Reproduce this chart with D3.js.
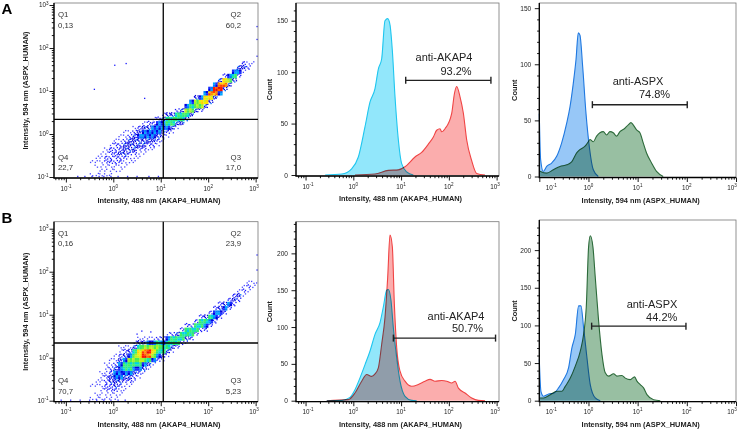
<!DOCTYPE html>
<html>
<head>
<meta charset="utf-8">
<script src="https://cdn.jsdelivr.net/npm/d3@7"></script>
<style>
body { margin: 0; background: #fff; }
svg { font-family: "Liberation Sans", Arial, sans-serif; }
</style>
</head>
<body>
<svg id="chart" width="738" height="433"></svg>
<script>
// ---------------- data ----------------
// quadrant gate (intensity units) and quadrant percentages (Q1,Q2,Q3,Q4)
const quadNames = ["Q1", "Q2", "Q3", "Q4"];
const quadValsA = ["0,13", "60,2", "17,0", "22,7"];
const quadValsB = ["0,16", "23,9", "5,23", "70,7"];
const gateX = 11.3, gateY = 2.2;

// dot plot density: [log10 x of column, log10 y of first cell, density digit per 0.1 decade going up]
const scatA = [
  [-0.5,-1.0,"1001"], [-0.4,-1.0,"10111"], [-0.3,-1.0,"111111"], [-0.2,-1.0,"1112211"],
  [-0.1,-1.0,"11122221"], [0.0,-0.9,"11222221"], [0.1,-0.9,"112232211"], [0.2,-0.8,"112333211"],
  [0.3,-0.7,"11233321"], [0.4,-0.7,"112333321"], [0.5,-0.6,"11233432"], [0.6,-0.5,"12334431"],
  [0.7,-0.4,"1234432"], [0.8,-0.4,"12344421"], [0.9,-0.3,"1234442"], [1.0,-0.2,"1234431"],
  [1.1,-0.1,"124553"], [1.2,0.0,"13553"], [1.3,0.1,"13552"], [1.4,0.2,"3553"],
  [1.5,0.3,"3564"], [1.6,0.4,"3654"], [1.7,0.5,"3663"], [1.8,0.5,"2674"],
  [1.9,0.6,"3774"], [2.0,0.7,"3784"], [2.1,0.8,"3894"], [2.2,0.9,"4983"],
  [2.3,1.0,"3872"], [2.4,1.1,"364"], [2.5,1.2,"354"], [2.6,1.3,"243"],
  [2.7,1.4,"132"], [2.8,1.5,"21"], [2.9,1.6,"1"]
];
const outliersA = [[0.03,1.6],[0.27,1.64],[-0.4,1.04],[0.66,0.83],[3.03,1.81],[3.03,2.5],[3.03,2.2]];
const floorA = [-0.75,-0.6,-0.45,-0.3,-0.2,-0.05,0.1,0.3,0.5,0.75,0.95];

const scatB = [
  [-0.5,-1.0,"1001"], [-0.4,-1.0,"11011"], [-0.3,-1.0,"1111111"], [-0.2,-1.0,"112222111"],
  [-0.1,-1.0,"1122332211"], [0.0,-1.0,"11233443211"], [0.1,-0.9,"112344443211"], [0.2,-0.8,"11234554321"],
  [0.3,-0.7,"1234556431"], [0.4,-0.6,"1234566531"], [0.5,-0.5,"1245677531"], [0.6,-0.4,"134698631"],
  [0.7,-0.3,"13589641"], [0.8,-0.2,"1467641"], [0.9,-0.1,"245652"], [1.0,-0.1,"135542"],
  [1.1,0.0,"135541"], [1.2,0.1,"13552"], [1.3,0.2,"2553"], [1.4,0.3,"2552"],
  [1.5,0.3,"13552"], [1.6,0.4,"2552"], [1.7,0.5,"2552"], [1.8,0.6,"2552"],
  [1.9,0.6,"2453"], [2.0,0.7,"2452"], [2.1,0.8,"2442"], [2.2,0.9,"2432"],
  [2.3,1.0,"243"], [2.4,1.1,"242"], [2.5,1.2,"232"], [2.6,1.3,"231"],
  [2.7,1.4,"121"], [2.8,1.5,"121"], [2.9,1.6,"11"], [3.0,1.7,"1"]
];
const outliersB = [[0.6,0.62],[0.79,0.6],[0.5,0.55],[3.03,2.39],[3.03,2.04]];
const floorB = [-1.1,-0.9,-0.7,-0.5,-0.35,-0.2,-0.05,0.1,0.25];

// histograms: [log10 intensity, count]
const akapCtrlA = [[-0.59,0],[-0.24,1],[-0.035,6],[0.105,17.5],[0.245,47],[0.35,71],[0.454,84],[0.524,103],
  [0.594,113],[0.663,150],[0.72,152],[0.768,146],[0.817,121],[0.873,76],[0.943,34],[1.012,11],[1.117,3],[1.257,0]];
const akapStainA = [[0.035,0],[0.454,1],[0.733,4.5],[0.943,5],[1.082,8],[1.291,17.5],[1.431,22],[1.571,30],
  [1.676,37],[1.745,43.5],[1.815,45],[1.85,42],[1.92,45],[2.06,60],[2.116,79],[2.164,86],[2.234,76],
  [2.304,60],[2.374,34],[2.478,14],[2.583,1.5],[2.757,0]];
const aspxCtrlA = [[-1.0,56],[-0.973,15],[-0.919,4.5],[-0.85,9],[-0.748,12],[-0.646,18],[-0.545,30],[-0.443,47.5],
  [-0.376,62],[-0.309,83],[-0.254,104],[-0.207,128],[-0.173,126],[-0.118,98],[-0.05,56],[0.016,27],[0.098,6],[0.2,0]];
const aspxStainA = [[-1.0,5],[-0.85,3],[-0.715,6],[-0.58,9],[-0.443,10.4],[-0.342,13],[-0.24,21],[-0.173,24],
  [-0.07,27],[-0.003,31],[0.03,33],[0.098,31],[0.166,36],[0.233,39],[0.301,40],[0.369,37],[0.437,40],
  [0.504,39],[0.572,36],[0.64,40],[0.741,43],[0.809,46],[0.863,48],[0.91,46],[0.978,41.5],[1.046,39],
  [1.113,30],[1.181,21],[1.283,12],[1.384,4.5],[1.52,0]];
const akapCtrlB = [[-0.557,0],[-0.24,0.5],[-0.07,4.5],[0.035,15],[0.14,31],[0.245,49],[0.35,67.5],[0.454,90],
  [0.559,106],[0.628,127],[0.698,150],[0.733,151],[0.789,136],[0.838,99],[0.908,58],[0.978,26.5],[1.082,6],
  [1.222,0.5],[1.327,0]];
const akapStainB = [[-0.557,0],[-0.105,1.4],[0.035,10.5],[0.175,26.5],[0.28,35.6],[0.385,33],[0.454,36.5],
  [0.524,44.7],[0.594,76.7],[0.663,113],[0.72,168],[0.768,225],[0.817,209],[0.859,131.5],[0.908,72],
  [0.978,40],[1.082,26.5],[1.222,19.6],[1.361,22],[1.501,26.5],[1.606,29],[1.71,26.5],[1.85,27.4],
  [1.955,26.5],[2.06,24],[2.13,26.5],[2.2,17],[2.339,10.5],[2.478,3.7],[2.617,0.5],[2.757,0]];
const aspxCtrlB = [[-1.0,55],[-0.967,12.5],[-0.913,6],[-0.81,9],[-0.709,10],[-0.608,17],[-0.506,28],[-0.404,44],
  [-0.336,70.5],[-0.268,88],[-0.2,126],[-0.153,126],[-0.099,97],[-0.031,57],[0.037,21],[0.138,3.6],[0.24,0]];
const aspxStainB = [[-1.0,3.6],[-0.913,3.6],[-0.777,8],[-0.642,12.5],[-0.54,12.5],[-0.472,19],[-0.37,30],
  [-0.268,46],[-0.166,66],[-0.099,88],[-0.045,124],[0.002,204],[0.037,219],[0.091,204],[0.138,164],
  [0.206,106],[0.274,61.6],[0.341,37],[0.409,32.6],[0.51,35.7],[0.579,32.6],[0.68,33.5],[0.748,30],
  [0.85,28],[0.938,31.7],[0.986,26],[1.053,21.4],[1.12,17],[1.189,8],[1.324,1.3],[1.46,0]];

// marker gates: intensity range, count level, label, percent
const gateNames = ["anti-AKAP4", "anti-ASPX", "anti-AKAP4", "anti-ASPX"];
const gatePct = ["93.2%", "74.8%", "50.7%", "44.2%"];
const gateRanges = [[12.5, 760], [1.2, 102], [6.9, 950], [1.16, 96]];
const gateCounts = [92, 64, 85, 99];

const xTitle488 = "Intensity, 488 nm (AKAP4_HUMAN)";
const xTitle594 = "Intensity, 594 nm (ASPX_HUMAN)";
const yTitleScatter = "Intensity, 594 nm (ASPX_HUMAN)";

// ---------------- drawing ----------------
const svg = d3.select("#chart");
const p10 = v => Math.pow(10, v);
const dotCol = ["", "#4848ff", "#1a1aff", "#0000e0"];
// 2x2 sub-square colours for the dense density levels
const subCol = {
  4: ["#0000e0", "#00a8ff", "#1830ff", "#0080ff"],
  5: ["#30e87a", "#00d4e8", "#40f060", "#20e8a0"],
  6: ["#60f040", "#c0f020", "#40ec5a", "#a0f030"],
  7: ["#ffe000", "#c8f020", "#ffd000", "#f0f000"],
  8: ["#ff9000", "#ffd000", "#ff7000", "#ff3c00"],
  9: ["#ff1c00", "#ff6000", "#ff1000", "#e81000"]
};
const dotPat = [
  [[.15,.25],[.65,.7],[.45,.05],[.85,.35],[.25,.8],[.55,.45],[.05,.55],[.75,.95]],
  [[.6,.2],[.2,.6],[.8,.8],[.35,.3],[.9,.1],[.1,.95],[.5,.75],[.7,.45]],
  [[.4,.65],[.85,.15],[.1,.3],[.6,.9],[.3,.05],[.95,.6],[.2,.45],[.7,.35]]
];

function superLabel(g, x, y, exp, anchor) {
  const t = g.append("text").attr("x", x).attr("y", y).attr("text-anchor", anchor)
    .attr("font-size", 6.3).attr("fill", "#222");
  t.append("tspan").text("10");
  t.append("tspan").attr("dy", -2.8).attr("font-size", 4.6).text(exp);
}

function logTicks(scale) {
  const [d0, d1] = scale.domain();
  const majors = d3.range(-1, 4).map(p10).filter(v => v >= d0 * 0.999 && v <= d1 * 1.001);
  const minors = [];
  for (let e = -2; e <= 3; e++) for (let k = 2; k <= 9; k++) { const v = k * p10(e); if (v > d0 && v < d1) minors.push(v); }
  return [majors, minors];
}

function logAxisX(box, xs) {
  const g = svg.append("g");
  const [majors, minors] = logTicks(xs);
  g.append("g").attr("transform", `translate(0,${box.y1})`)
    .call(d3.axisBottom(xs).tickValues(minors).tickSize(2.2).tickFormat(""))
    .call(s => s.select(".domain").remove());
  g.append("g").attr("transform", `translate(0,${box.y1})`)
    .call(d3.axisBottom(xs).tickValues(majors).tickSize(4.5).tickFormat(""))
    .call(s => s.select(".domain").remove());
  g.selectAll("line").attr("stroke", "#000").attr("stroke-width", 0.9);
  majors.forEach(v => {
    const x = Math.min(Math.max(xs(v), box.x0 + 12), box.x1 - 4);
    superLabel(g, x, box.y1 + 12.5, String(Math.round(Math.log10(v))), "middle");
  });
}

function logAxisY(box, ys) {
  const g = svg.append("g");
  const [majors, minors] = logTicks(ys);
  g.append("g").attr("transform", `translate(${box.x0},0)`)
    .call(d3.axisLeft(ys).tickValues(minors).tickSize(2.2).tickFormat(""))
    .call(s => s.select(".domain").remove());
  g.append("g").attr("transform", `translate(${box.x0},0)`)
    .call(d3.axisLeft(ys).tickValues(majors).tickSize(4.5).tickFormat(""))
    .call(s => s.select(".domain").remove());
  g.selectAll("line").attr("stroke", "#000").attr("stroke-width", 0.9);
  majors.forEach(v => superLabel(g, box.x0 - 5.5, ys(v) + 2.3, String(Math.round(Math.log10(v))), "end"));
}

function frame(box) {
  svg.append("rect").attr("x", box.x0).attr("y", box.y0).attr("width", box.x1 - box.x0)
    .attr("height", box.y1 - box.y0).attr("fill", "none").attr("stroke", "#777").attr("stroke-width", 0.8);
  svg.append("path").attr("d", `M${box.x0},${box.y0}V${box.y1}H${box.x1}`)
    .attr("fill", "none").attr("stroke", "#000").attr("stroke-width", 1.3);
}

function titles(box, xTitle, yTitle, yTitleX) {
  svg.append("text").attr("x", (box.x0 + box.x1) / 2 + 3).attr("y", box.y1 + 25)
    .attr("text-anchor", "middle").attr("font-size", 7.4).attr("font-weight", 700).attr("fill", "#222").text(xTitle);
  svg.append("text").attr("transform", `translate(${yTitleX},${(box.y0 + box.y1) / 2}) rotate(-90)`)
    .attr("text-anchor", "middle").attr("font-size", 7.4).attr("font-weight", 700).attr("fill", "#222").text(yTitle);
}

function drawScatter(box, xs, ys, cols, outliers, floor, vals) {
  const clipId = "clip" + Math.round(box.y0);
  svg.append("clipPath").attr("id", clipId).append("rect")
    .attr("x", box.x0).attr("y", box.y0).attr("width", box.x1 - box.x0).attr("height", box.y1 - box.y0);
  const g = svg.append("g").attr("clip-path", `url(#${clipId})`);

  const cells = [];
  cols.forEach(([cx, cy0, s]) => [...s].forEach((c, k) => {
    if (+c) cells.push({ lx: cx, ly: cy0 + k * 0.1, v: +c });
  }));
  const cellBox = d => ({
    xa: xs(p10(d.lx)), xb: xs(p10(d.lx + 0.1)),
    ya: ys(p10(d.ly + 0.1)), yb: ys(p10(d.ly))
  });

  // sparse cells -> scattered single events
  const dots = [];
  cells.filter(d => d.v < 4).forEach((d, i) => {
    const b = cellBox(d);
    const n = [0, 2, 4, 7][d.v];
    const pat = dotPat[i % 3];
    for (let k = 0; k < n; k++) {
      dots.push({
        x: b.xa + pat[k][0] * (b.xb - b.xa), y: b.ya + pat[k][1] * (b.yb - b.ya),
        c: d.v === 3 && k === 3 ? "#0070ff" : dotCol[d.v]
      });
    }
  });
  outliers.forEach(([a, b]) => dots.push({ x: xs(p10(a)), y: ys(p10(b)), c: "#1a1aff" }));
  floor.forEach(a => dots.push({ x: xs(p10(a)), y: box.y1 - 1.6, c: "#3030ff" }));

  g.selectAll("rect.dot").data(dots).join("rect").attr("class", "dot")
    .attr("x", d => d.x - 0.6).attr("y", d => d.y - 0.6).attr("width", 1.3).attr("height", 1.3)
    .attr("fill", d => d.c);

  // dense cells -> 2x2 speckled squares coloured by density
  const subs = [];
  cells.filter(d => d.v >= 4).forEach((d, i) => {
    const b = cellBox(d);
    const w = (b.xb - b.xa) / 2, h = (b.yb - b.ya) / 2;
    for (let k = 0; k < 4; k++) {
      subs.push({ x: b.xa + (k % 2) * w, y: b.ya + Math.floor(k / 2) * h, w, h, c: subCol[d.v][(k + i) % 4] });
    }
  });
  g.selectAll("rect.sub").data(subs).join("rect").attr("class", "sub")
    .attr("x", d => d.x).attr("y", d => d.y).attr("width", d => d.w + 0.2).attr("height", d => d.h + 0.2)
    .attr("fill", d => d.c);

  frame(box);
  logAxisX(box, xs);
  logAxisY(box, ys);

  // quadrant lines
  svg.append("line").attr("x1", xs(gateX)).attr("x2", xs(gateX)).attr("y1", box.y0).attr("y2", box.y1)
    .attr("stroke", "#000").attr("stroke-width", 1.3);
  svg.append("line").attr("x1", box.x0).attr("x2", box.x1).attr("y1", ys(gateY)).attr("y2", ys(gateY))
    .attr("stroke", "#000").attr("stroke-width", 1.3);

  const qpos = [
    [box.x0 + 4, box.y0 + 14, "start"], [box.x1 - 17, box.y0 + 14, "end"],
    [box.x1 - 17, box.y1 - 18.3, "end"], [box.x0 + 4, box.y1 - 18.3, "start"]
  ];
  qpos.forEach(([x, y, a], i) => {
    svg.append("text").attr("x", x).attr("y", y).attr("text-anchor", a)
      .attr("font-size", 7.8).attr("fill", "#333").text(quadNames[i]);
    svg.append("text").attr("x", x).attr("y", y + 10.5).attr("text-anchor", a)
      .attr("font-size", 7.8).attr("fill", "#333").text(vals[i]);
  });
  titles(box, xTitle488, yTitleScatter, 27.5);
}

function drawHist(box, xs, yMax, yTicks, series, gi, textPos, xTitle, countX) {
  const ys = d3.scaleLinear().domain([0, yMax]).range([box.y1 - 1, box.y0]);
  const g = svg.append("g");
  const area = d3.area().x(d => xs(p10(d[0]))).y0(ys(0)).y1(d => ys(d[1])).curve(d3.curveMonotoneX);
  const line = d3.line().x(d => xs(p10(d[0]))).y(d => ys(d[1])).curve(d3.curveMonotoneX);
  series.forEach(s => {
    const sg = g.append("g").style("mix-blend-mode", "multiply");
    sg.append("path").attr("d", area(s.data)).attr("fill", s.fill);
    sg.append("path").attr("d", line(s.data)).attr("fill", "none").attr("stroke", s.stroke).attr("stroke-width", 1.1);
  });

  frame(box);
  logAxisX(box, xs);

  const minors = d3.range(0, yMax, 10).filter(v => v % 50 !== 0);
  const ya = svg.append("g");
  ya.append("g").attr("transform", `translate(${box.x0},0)`)
    .call(d3.axisLeft(ys).tickValues(minors).tickSize(2.2).tickFormat(""))
    .call(s => s.select(".domain").remove());
  ya.append("g").attr("transform", `translate(${box.x0},0)`)
    .call(d3.axisLeft(ys).tickValues(yTicks).tickSize(4.5).tickPadding(3.5))
    .call(s => s.select(".domain").remove())
    .call(s => s.selectAll("text").attr("font-size", 6.6).attr("fill", "#222")
      .attr("font-family", "Liberation Sans, Arial, sans-serif"));
  ya.selectAll("line").attr("stroke", "#000").attr("stroke-width", 0.9);

  // marker gate bar
  const [g0, g1] = gateRanges[gi];
  const gy = ys(gateCounts[gi]);
  const bar = svg.append("g").attr("stroke", "#222").attr("stroke-width", 1.4);
  bar.append("line").attr("x1", xs(g0)).attr("x2", xs(g1)).attr("y1", gy).attr("y2", gy);
  [g0, g1].forEach(v => bar.append("line").attr("x1", xs(v)).attr("x2", xs(v)).attr("y1", gy - 3.5).attr("y2", gy + 3.5));
  svg.append("text").attr("x", textPos[0]).attr("y", textPos[1]).attr("text-anchor", "middle")
    .attr("font-size", 11).attr("fill", "#222").text(gateNames[gi]);
  svg.append("text").attr("x", textPos[2]).attr("y", textPos[3]).attr("text-anchor", "middle")
    .attr("font-size", 11).attr("fill", "#222").text(gatePct[gi]);

  titles(box, xTitle, "Count", countX);
}

// scales
const sxScatter = d3.scaleLog().domain([p10(-1.25), p10(3.05)]).range([54, 258]);
const syA = d3.scaleLog().domain([p10(-1.023), p10(3.047)]).range([178, 3]);
const syB = d3.scaleLog().domain([p10(-1.023), p10(3.163)]).range([401.7, 221.7]);
const sxH1 = d3.scaleLog().domain([p10(-1.2), p10(3.05)]).range([296, 499]);
const sxH2 = d3.scaleLog().domain([0.1, 1000]).range([539.3, 736]);

const redFill = "#fbadad", redLine = "#f04444", cyanFill = "#92e7fb", cyanLine = "#1ec6ef";
const greenFill = "#98bfa2", greenLine = "#2c6a3a", blueFill = "#97c7f7", blueLine = "#1f78e0";

// row A
drawScatter({x0: 54, x1: 258, y0: 3, y1: 178}, sxScatter, syA, scatA, outliersA, floorA, quadValsA);
drawHist({x0: 296, x1: 499, y0: 3, y1: 176}, sxH1, 167.2, [0, 50, 100, 150],
  [{data: akapStainA, fill: redFill, stroke: redLine}, {data: akapCtrlA, fill: cyanFill, stroke: cyanLine}],
  0, [444, 61.2, 456, 74.5], xTitle488, 271.5);
drawHist({x0: 539.3, x1: 736, y0: 3, y1: 177.5}, sxH2, 154.6, [0, 50, 100, 150],
  [{data: aspxStainA, fill: greenFill, stroke: greenLine}, {data: aspxCtrlA, fill: blueFill, stroke: blueLine}],
  1, [638, 84.5, 654.5, 98], xTitle594, 516.5);

// row B
drawScatter({x0: 54, x1: 258, y0: 221.7, y1: 401.7}, sxScatter, syB, scatB, outliersB, floorB, quadValsB);
drawHist({x0: 296, x1: 499, y0: 221.7, y1: 401.7}, sxH1, 243, [0, 50, 100, 150, 200],
  [{data: akapStainB, fill: redFill, stroke: redLine}, {data: akapCtrlB, fill: cyanFill, stroke: cyanLine}],
  2, [456, 320, 467.5, 331.5], xTitle488, 271.5);
drawHist({x0: 539.3, x1: 736, y0: 220, y1: 401.7}, sxH2, 240, [0, 50, 100, 150, 200],
  [{data: aspxStainB, fill: greenFill, stroke: greenLine}, {data: aspxCtrlB, fill: blueFill, stroke: blueLine}],
  3, [652, 308, 661.7, 321], xTitle594, 516.5);

// panel letters
svg.append("text").attr("x", 1.5).attr("y", 13.5).attr("font-size", 15).attr("font-weight", 700).text("A");
svg.append("text").attr("x", 1.5).attr("y", 223).attr("font-size", 15).attr("font-weight", 700).text("B");
</script>
</body>
</html>
